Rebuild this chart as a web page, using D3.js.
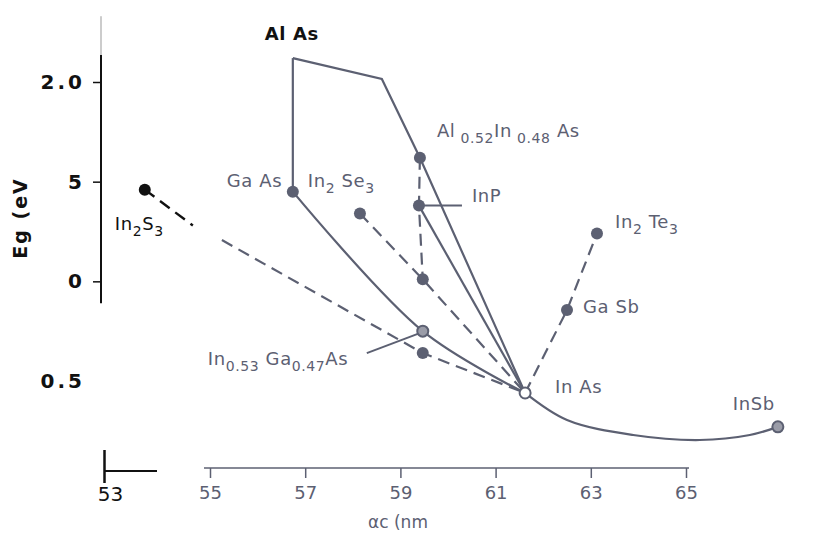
<!DOCTYPE html>
<html>
<head>
<meta charset="utf-8">
<script src="https://cdn.jsdelivr.net/npm/d3@7"></script>
<style>
  body { margin: 0; background: #fff; }
  svg { display: block; }
  text { font-family: "DejaVu Sans", sans-serif; }
</style>
</head>
<body>
<svg></svg>
<script>
// compounds: lattice constant (x, as printed on axis) and gap Eg (eV)
var names   = ["AlAs", "GaAs", "AlInAs", "InP", "In2Se3", "mid", "InGaAs", "InGaAs2", "In2S3", "InAs", "GaSb", "In2Te3", "InSb"]
var latt    = [56.74, 56.74, 59.41, 59.39, 58.15, 59.47, 59.47, 59.47, 53.63, 61.62, 62.50, 63.13, 66.93]
var gap     = [2.12, 1.45, 1.62, 1.38, 1.34, 1.01, 0.75, 0.64, 1.46, 0.44, 0.856, 1.24, 0.27]

// solid boundary lines
var alasTop   = [[56.74, 2.12], [58.61, 2.015], [59.41, 1.62], [61.62, 0.44]]
var alasGaas  = [[56.74, 2.12], [56.74, 1.45]]
var gaasInas  = [[56.74, 1.45], [59.47, 0.75], [61.62, 0.44]]
var inpInas   = [[59.39, 1.38], [61.62, 0.44]]
var inasInsb  = [[61.62, 0.44], [62.50, 0.304], [63.89, 0.229], [65.29, 0.204], [66.34, 0.229], [66.93, 0.27]]

// dashed lines
var alinasDown = [[59.41, 1.62], [59.39, 1.38], [59.47, 1.01]]
var in2se3Line = [[58.15, 1.34], [59.47, 1.01], [61.62, 0.44]]
var in2s3Short = [[53.63, 1.46], [54.64, 1.28]]
var in2s3Long  = [[55.25, 1.207], [59.47, 0.64], [61.62, 0.44]]
var te3Line    = [[61.62, 0.44], [62.50, 0.856], [63.13, 1.24]]

var xTicks = [55, 57, 59, 61, 63, 65]
var yTicks = [2.0, 1.5, 1.0, 0.5]
var yTickLabels = ["2.0", "5", "0", "0.5"]

var ink = "#5c6072"
var dark = "#111"

var svg = d3.select("svg").attr("width", 824).attr("height", 547)

var x = d3.scaleLinear().domain([55, 65]).range([210, 686])
var y = d3.scaleLinear().domain([0.5, 2.0]).range([381, 82])

var line = d3.line().x(function(d){ return x(d[0]) }).y(function(d){ return y(d[1]) })
var curve = d3.line().x(function(d){ return x(d[0]) }).y(function(d){ return y(d[1]) }).curve(d3.curveCatmullRom)

// ---- left axis
svg.append("line")
  .attr("x1", 101).attr("x2", 101)
  .attr("y1", y(2.33)).attr("y2", y(2.135))
  .attr("stroke", "#999").attr("stroke-width", 1)
svg.append("line")
  .attr("x1", 101).attr("x2", 101)
  .attr("y1", y(2.135)).attr("y2", y(0.89))
  .attr("stroke", dark).attr("stroke-width", 2)

var yAxis = d3.axisLeft(y).tickValues(yTicks).tickSize(8).tickPadding(8)
  .tickFormat(function(d, i){ return yTickLabels[i] })
var gy = svg.append("g").attr("transform", "translate(101,0)").call(yAxis)
gy.select(".domain").remove()
gy.selectAll(".tick line").attr("stroke", dark).attr("stroke-width", 1.5)
  .filter(function(d){ return d == 0.5 }).remove()
gy.selectAll(".tick text").attr("fill", dark).attr("font-size", 20)
  .attr("font-weight", "bold").attr("letter-spacing", 3)
  .attr("font-family", "'DejaVu Sans', sans-serif")

svg.append("text")
  .attr("transform", "translate(27,218) rotate(-90)")
  .attr("text-anchor", "middle").attr("fill", dark)
  .attr("font-size", 19).attr("font-weight", "bold").attr("letter-spacing", 2)
  .text("Eg (eV")

// ---- bottom axis, broken-off left piece with 53
var x53 = d3.scaleLinear().domain([53, 54.1]).range([104, 157])
var g53 = svg.append("g").attr("transform", "translate(0,471)")
  .call(d3.axisBottom(x53).tickValues([53]).tickSize(12).tickPadding(4).tickFormat(d3.format("d")))
g53.select(".domain").attr("d", "M" + x53(53) + ",0H" + x53(54.1)).attr("stroke", dark).attr("stroke-width", 2)
g53.selectAll(".tick line").attr("y1", -21).attr("y2", 12).attr("stroke", dark).attr("stroke-width", 2.5)
g53.selectAll(".tick text").attr("fill", dark).attr("font-size", 20).attr("dx", 6)
  .attr("font-family", "'DejaVu Sans', sans-serif")

// ---- bottom axis, main piece
var gx = svg.append("g").attr("transform", "translate(0,468)")
  .call(d3.axisBottom(x).tickValues(xTicks).tickSize(10).tickPadding(8).tickFormat(d3.format("d")))
gx.select(".domain").attr("d", "M" + (x(55) - 6) + ",0H" + (x(65) + 3)).attr("stroke", ink).attr("stroke-width", 1.6)
gx.selectAll(".tick line").attr("stroke", ink).attr("stroke-width", 1.5)
gx.selectAll(".tick text").attr("fill", ink).attr("font-size", 18)
  .attr("font-family", "'DejaVu Sans', sans-serif")

svg.append("text").attr("x", 398).attr("y", 528).attr("text-anchor", "middle")
  .attr("fill", ink).attr("font-size", 17).text("αc (nm")

// ---- lines
var plot = svg.append("g")
;[alasTop, alasGaas, inpInas].forEach(function(p){
  plot.append("path").attr("d", line(p)).attr("fill", "none")
    .attr("stroke", ink).attr("stroke-width", 2.2)
})
;[gaasInas, inasInsb].forEach(function(p){
  plot.append("path").attr("d", curve(p)).attr("fill", "none")
    .attr("stroke", ink).attr("stroke-width", 2.2)
})
plot.append("path").attr("d", line(in2s3Short)).attr("fill", "none")
  .attr("stroke", dark).attr("stroke-width", 2.4).attr("stroke-dasharray", "12,7")
;[alinasDown, in2se3Line, in2s3Long, te3Line].forEach(function(p){
  plot.append("path").attr("d", line(p)).attr("fill", "none")
    .attr("stroke", ink).attr("stroke-width", 2.2).attr("stroke-dasharray", "12,7")
})

// leader lines
plot.append("line").attr("x1", x(59.39)).attr("y1", y(1.38))
  .attr("x2", x(59.39) + 43).attr("y2", y(1.38))
  .attr("stroke", ink).attr("stroke-width", 2)
plot.append("line").attr("x1", x(59.47) - 56).attr("y1", y(0.75) + 22)
  .attr("x2", x(59.47) - 3).attr("y2", y(0.75) + 2)
  .attr("stroke", ink).attr("stroke-width", 2)

// ---- points
var pts = names.map(function(n, i){ return {name: n, x: latt[i], y: gap[i]} })
  .filter(function(d){ return d.name != "AlAs" })

plot.selectAll("circle.pt").data(pts).enter().append("circle")
  .attr("class", "pt")
  .attr("cx", function(d){ return x(d.x) })
  .attr("cy", function(d){ return y(d.y) })
  .attr("r", function(d){ return d.name == "InGaAs" || d.name == "InAs" || d.name == "InSb" ? 5.5 : 6 })
  .attr("fill", function(d){
    if (d.name == "InAs") return "#fff"
    if (d.name == "InSb" || d.name == "InGaAs") return "#9a9ca8"
    return d.name == "In2S3" ? dark : ink
  })
  .attr("stroke", function(d){ return d.name == "In2S3" ? dark : ink })
  .attr("stroke-width", function(d){ return d.name == "InAs" || d.name == "InSb" || d.name == "InGaAs" ? 2 : 0 })

// ---- labels with subscripts
var labels = [
  {parts: [["Al As", 0]], at: "AlAs", dx: -28, dy: -18, color: dark, bold: true},
  {parts: [["Ga As", 0]], at: "GaAs", dx: -66, dy: -5},
  {parts: [["In", 0], ["2", 1], [" Se", 0], ["3", 1]], at: "GaAs", dx: 15, dy: -5},
  {parts: [["Al", 0], [" 0.52", 1], ["In", 0], [" 0.48", 1], ["  As", 0]], at: "AlInAs", dx: 17, dy: -21},
  {parts: [["InP", 0]], at: "InP", dx: 53, dy: -4},
  {parts: [["In", 0], ["2", 1], ["  Te", 0], ["3", 1]], at: "In2Te3", dx: 18, dy: -5},
  {parts: [["Ga Sb", 0]], at: "GaSb", dx: 16, dy: 3},
  {parts: [["In As", 0]], at: "InAs", dx: 30, dy: 0},
  {parts: [["InSb", 0]], at: "InSb", dx: -45, dy: -17},
  {parts: [["In", 0], ["0.53", 1], [" Ga", 0], ["0.47", 1], ["As", 0]], at: "InGaAs", dx: -215, dy: 34},
  {parts: [["In", 0], ["2", 1], ["S", 0], ["3", 1]], at: "In2S3", dx: -30, dy: 40, color: dark}
]

labels.forEach(function(l){
  var i = names.indexOf(l.at)
  var t = svg.append("text")
    .attr("x", x(latt[i]) + l.dx).attr("y", y(gap[i]) + l.dy)
    .attr("fill", l.color || ink).attr("font-size", 18).attr("letter-spacing", 0.6)
    .attr("font-weight", l.bold ? "bold" : "normal")
  var down = false
  l.parts.forEach(function(p){
    var s = t.append("tspan").text(p[0])
    if (p[1] && !down) { s.attr("dy", 6).attr("font-size", 14); down = true }
    else if (p[1]) { s.attr("font-size", 14) }
    else if (!p[1] && down) { s.attr("dy", -6); down = false }
  })
})
</script>
</body>
</html>
